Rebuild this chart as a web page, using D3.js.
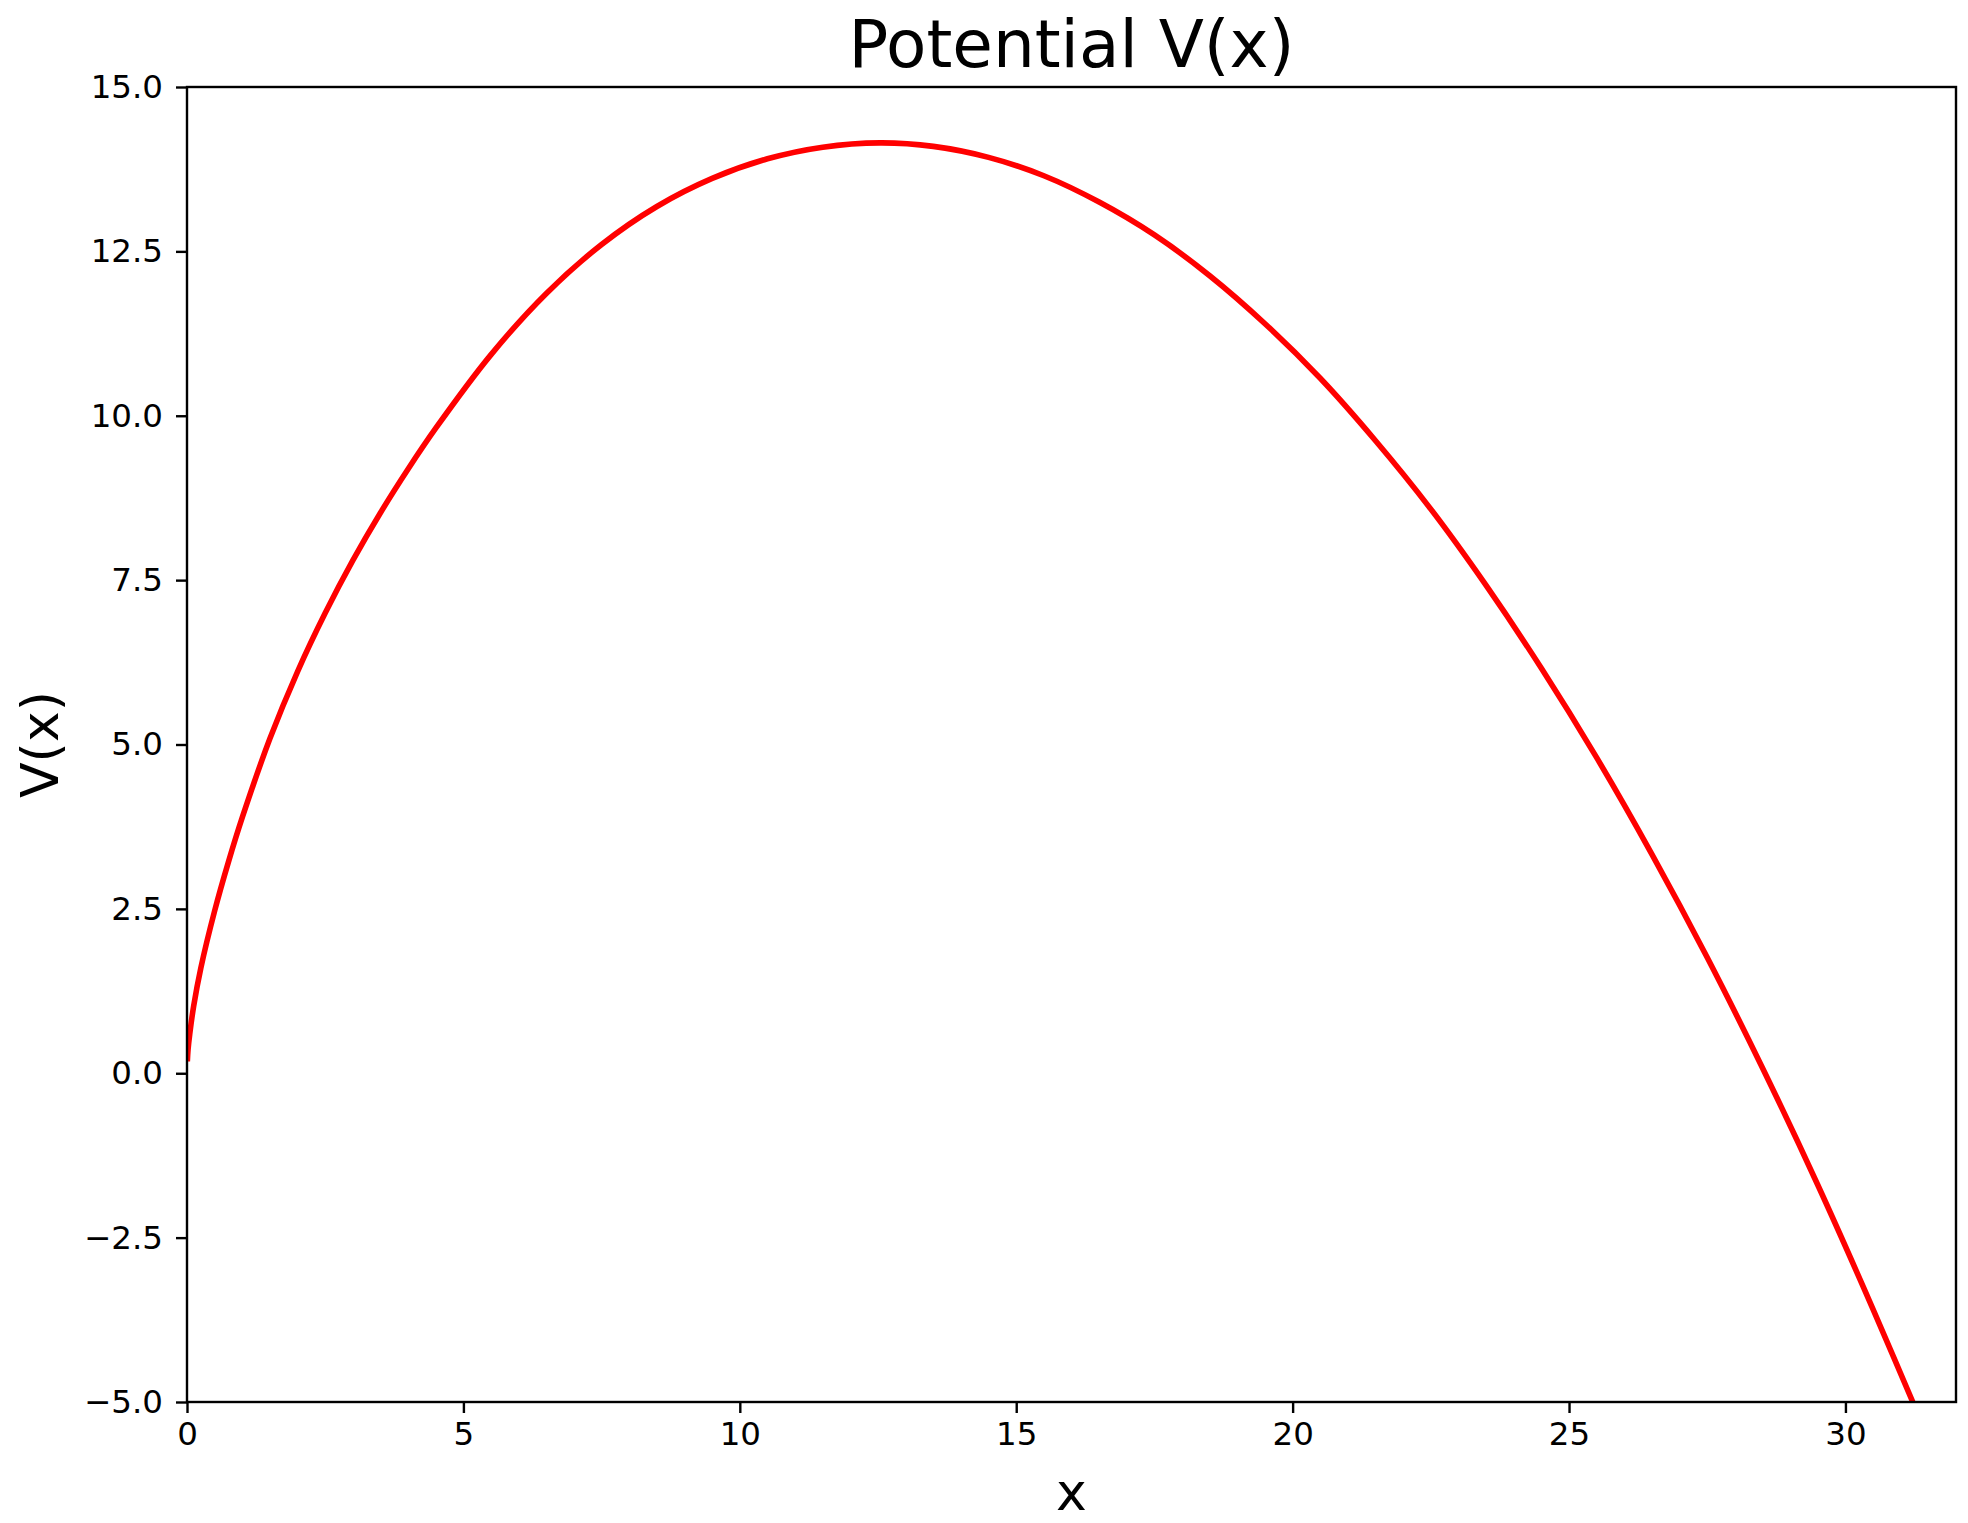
<!DOCTYPE html>
<html>
<head>
<meta charset="utf-8">
<script src="https://cdn.jsdelivr.net/npm/d3@7"></script>
<style>
  html, body { margin: 0; padding: 0; background: #fff; }
  svg { display: block; }
  text { font-family: "DejaVu Sans", sans-serif; fill: #000; }
</style>
</head>
<body>
<script>
// ---- data ----
const xValues = [0.006, 0.02, 0.05, 0.12, 0.25, 0.5, 0.75, 1.0, 1.5, 2.0, 2.5, 3.0, 3.5, 4.0, 4.5, 5.5, 6.5, 7.5, 8.5, 9.5, 10.5, 11.5, 12.54, 13.5, 14.5, 15.5, 16.5, 17.5, 18.5, 19.5, 20.5, 21.5, 22.5, 23.5, 24.5, 25.5, 26.5, 27.5, 28.5, 29.5, 30.5, 31.42];
const vValues = [0.18, 0.37, 0.60, 1.02, 1.60, 2.47, 3.215, 3.89, 5.09, 6.11, 7.00, 7.80, 8.525, 9.19, 9.81, 10.93, 11.86, 12.605, 13.183, 13.61, 13.908, 14.085, 14.15, 14.097, 13.93, 13.65, 13.25, 12.75, 12.13, 11.40, 10.57, 9.62, 8.58, 7.42, 6.16, 4.80, 3.33, 1.76, 0.08, -1.70, -3.59, -5.40];
const xTicks = [0, 5, 10, 15, 20, 25, 30];
const yTicks = [-5, -2.5, 0, 2.5, 5, 7.5, 10, 12.5, 15];
const xDomain = [0, 32];
const yDomain = [-5, 15];
const titleText = "Potential V(x)";
const xLabel = "x";
const yLabel = "V(x)";

// ---- layout ----
const W = 1968, H = 1523;
const L = 187, R = 1956, T = 87, B = 1402;

const svg = d3.select("body").append("svg").attr("width", W).attr("height", H);

const x = d3.scaleLinear().domain(xDomain).range([L, R]);
const y = d3.scaleLinear().domain(yDomain).range([B, T]);

svg.append("defs").append("clipPath").attr("id", "clip")
  .append("rect").attr("x", L).attr("y", T).attr("width", R - L).attr("height", B - T);

const data = xValues.map((d, i) => ({ x: d, v: vValues[i] }));

svg.append("path")
  .datum(data)
  .attr("clip-path", "url(#clip)")
  .attr("fill", "none")
  .attr("stroke", "#ff0000")
  .attr("stroke-width", 5.6)
  .attr("stroke-linejoin", "round")
  .attr("d", d3.line().x(d => x(d.x)).y(d => y(d.v)).curve(d3.curveCatmullRom.alpha(0.5)));

// axes
const xAxis = svg.append("g").attr("transform", `translate(0,${B})`)
  .call(d3.axisBottom(x).tickValues(xTicks).tickFormat(d3.format("d")).tickSize(11).tickPadding(9));
const yAxis = svg.append("g").attr("transform", `translate(${L},0)`)
  .call(d3.axisLeft(y).tickValues(yTicks).tickFormat(d3.format(".1f")).tickSize(11).tickPadding(13));

[xAxis, yAxis].forEach(g => {
  g.select(".domain").remove();
  g.selectAll(".tick line").attr("stroke", "#000").attr("stroke-width", 2.4);
  g.selectAll(".tick text").attr("font-family", "DejaVu Sans").attr("font-size", 32.5).attr("fill", "#000");
});

// spines
svg.append("rect")
  .attr("x", L).attr("y", T).attr("width", R - L).attr("height", B - T)
  .attr("fill", "none").attr("stroke", "#000").attr("stroke-width", 2.4);

// title & labels
svg.append("text").attr("x", (L + R) / 2).attr("y", 67)
  .attr("text-anchor", "middle").attr("font-size", 66).text(titleText);
svg.append("text").attr("x", (L + R) / 2).attr("y", 1510)
  .attr("text-anchor", "middle").attr("font-size", 52).text(xLabel);
svg.append("text").attr("transform", `translate(58,${(T + B) / 2}) rotate(-90)`)
  .attr("text-anchor", "middle").attr("font-size", 52).text(yLabel);
</script>
</body>
</html>
